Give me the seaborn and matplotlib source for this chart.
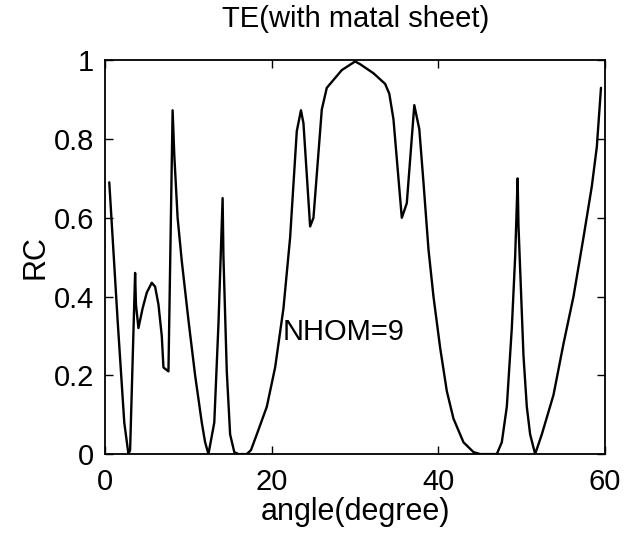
import matplotlib
matplotlib.use("Agg")
import matplotlib.pyplot as plt
import seaborn as sns
import pandas as pd

angle = [0.5, 0.6, 1.5, 2.3, 2.8, 3.0, 3.6, 3.7, 4.0, 4.5, 5.0, 5.6, 6.0, 6.4, 6.8, 7.0, 7.6,
         8.1, 8.3, 8.7, 9.2, 10.0, 10.8, 11.6, 12.0, 12.4, 13.1, 13.6, 14.1, 14.2, 14.6, 15.0,
         15.5, 16.0, 17.0, 17.5, 18.2, 19.4, 20.4, 21.4, 22.2, 23.0, 23.5, 23.8, 24.6, 25.0,
         26.0, 26.6, 27.2, 28.4, 30.0, 30.6, 32.2, 33.6, 34.1, 34.6, 35.0, 35.6, 36.2, 37.1,
         37.7, 38.2, 38.8, 39.4, 40.2, 41.0, 41.8, 43.0, 44.2, 45.0, 47.0, 47.6, 48.2, 48.8,
         49.2, 49.5, 49.6, 50.2, 50.6, 51.0, 51.6, 52.4, 53.8, 55.0, 56.2, 57.4, 58.4, 59.0, 59.5]
rc = [0.69, 0.655, 0.34, 0.08, 0.0, 0.01, 0.46, 0.38, 0.32, 0.37, 0.41, 0.435, 0.425, 0.38, 0.30, 0.22, 0.21,
      0.873, 0.76, 0.60, 0.49, 0.34, 0.20, 0.08, 0.03, 0.0, 0.08, 0.33, 0.65, 0.50, 0.21, 0.05,
      0.005, 0.0, 0.0, 0.01, 0.05, 0.12, 0.22, 0.37, 0.55, 0.82, 0.873, 0.84, 0.578, 0.60,
      0.875, 0.93, 0.945, 0.975, 0.997, 0.99, 0.967, 0.94, 0.915, 0.85, 0.75, 0.60, 0.637, 0.886,
      0.825, 0.69, 0.52, 0.40, 0.27, 0.16, 0.09, 0.03, 0.005, 0.0, 0.0, 0.03, 0.12, 0.32,
      0.50, 0.70, 0.58, 0.25, 0.12, 0.05, 0.0, 0.05, 0.15, 0.28, 0.40, 0.55, 0.68, 0.78, 0.93]

xticks = [0, 20, 40, 60]
yticks = [0, 0.2, 0.4, 0.6, 0.8, 1.0]
yticklabels = ["0", "0.2", "0.4", "0.6", "0.8", "1"]

sns.set_style("ticks")
plt.rcParams['font.family'] = ['Liberation Sans', 'DejaVu Sans']
plt.rcParams['text.color'] = 'black'
plt.rcParams['axes.labelcolor'] = 'black'
plt.rcParams['xtick.color'] = 'black'
plt.rcParams['ytick.color'] = 'black'

df = pd.DataFrame({"angle": angle, "RC": rc})

fig = plt.figure(figsize=(6.37, 5.38), dpi=100)
ax = fig.add_axes([0.165, 0.156, 0.785, 0.732])
sns.lineplot(data=df, x="angle", y="RC", ax=ax, color="black", linewidth=1.7,
             estimator=None, sort=False)

ax.set_xlim(0, 60)
ax.set_ylim(0, 1)
ax.set_xticks(xticks)
ax.set_xticklabels([str(t) for t in xticks])
ax.set_yticks(yticks)
ax.set_yticklabels(yticklabels)
ax.tick_params(axis="both", direction="in", top=True, right=True, length=6, width=1,
               labelsize=21, colors="black")
ax.tick_params(axis="x", pad=10)
ax.tick_params(axis="y", pad=8)
for s in ax.spines.values():
    s.set_linewidth(1.3)
    s.set_color("black")

ax.set_title("TE(with matal sheet)", fontsize=21, pad=24, color="black")
ax.set_xlabel("angle(degree)", fontsize=22, labelpad=1, color="black")
ax.set_ylabel("RC", fontsize=22, labelpad=2, color="black")
ax.text(21.3, 0.31, "NHOM=9", fontsize=21, ha="left", va="center", color="black")

fig.savefig("out.png", dpi=100)
